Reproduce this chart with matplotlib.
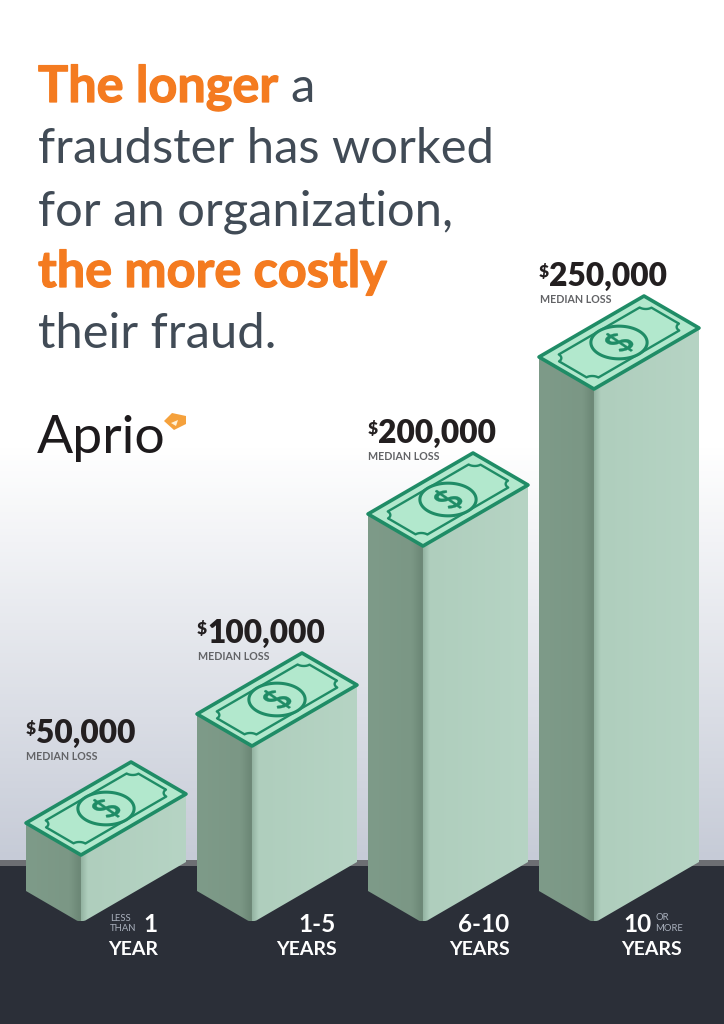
import numpy as np
import matplotlib
matplotlib.use('Agg')
import matplotlib.pyplot as plt
import matplotlib.patheffects as pe
from matplotlib.colors import LinearSegmentedColormap
from matplotlib.font_manager import FontProperties
from matplotlib.patches import PathPatch, Polygon
from matplotlib.path import Path
from matplotlib.textpath import TextPath
from matplotlib.transforms import Affine2D

# --- data ---
median_loss = [50000, 100000, 200000, 250000]
tenure_main = ['1', '1-5', '6-10', '10']
tenure_unit = ['YEAR', 'YEARS', 'YEARS', 'YEARS']
loss_caption = 'MEDIAN LOSS'

# the stacks are a pictogram, not to linear scale: loss -> stack height in px
scale_loss = [50000, 100000, 200000, 250000]
scale_height = [68, 177, 377, 534]

ORANGE = '#f47b20'
SLATE = '#414b56'
INK = '#231f20'
NAVY = '#2b2f38'
EDGE = '#1f8c66'
BILL = '#b2e8cd'
FONT = 'Lato'

fig = plt.figure(figsize=(7.24, 10.24), dpi=100)
ax = fig.add_axes([0, 0, 1, 1])
ax.axis('off')

# background
bg = LinearSegmentedColormap.from_list('bg', [(0, '#ffffff'), (0.52, '#ffffff'), (1, '#c6cbd7')])
ax.imshow(np.linspace(0, 1, 256)[:, None], cmap=bg, aspect='auto', extent=(0, 724, 862, 0), zorder=0)
ax.fill_between([0, 724], 860, 868, color='#6d6f73', lw=0, zorder=1)
ax.fill_between([0, 724], 866, 1024, color=NAVY, lw=0, zorder=1)


def shaded_face(pts, stops, zorder=2):
    xs = [p[0] for p in pts]
    ys = [p[1] for p in pts]
    cmap = LinearSegmentedColormap.from_list('face', stops)
    im = ax.imshow(np.linspace(0, 1, 128)[None, :], cmap=cmap, aspect='auto',
                   extent=(min(xs), max(xs), max(ys), min(ys)), zorder=zorder)
    clip = Polygon(pts, closed=True, transform=ax.transData, fc='none', ec='none')
    ax.add_patch(clip)
    im.set_clip_path(clip)


def draw_stack(left, height):
    # a = long edge going up-right, b = short edge going up-left, from front corner
    front = np.array([left + 55.0, 923.0])
    a = np.array([105.0, -61.0])
    b = np.array([-55.0, -32.0])
    top = front + [0, -height]
    tip = front + [0, -1.5]

    def uv(u, v):
        return top + np.outer(u, a) + np.outer(v, b)

    shaded_face([front + b, front + 0.07 * b, tip, top, top + b],
                [(0, '#7e9b89'), (0.8, '#7b9785'), (0.97, '#6d8877'), (1, '#6f8a79')])
    shaded_face([tip, front + 0.04 * a, front + a, top + a, top],
                [(0, '#94b4a2'), (0.06, '#afcebd'), (1, '#b6d4c4')])

    # top of the bill
    corners = uv(np.array([0, 1, 1, 0]), np.array([0, 0, 1, 1]))
    ax.add_patch(Polygon(corners, closed=True, fc=BILL, ec=EDGE, lw=2.6, joinstyle='round', zorder=3))

    # inner border with scooped corners
    u0, u1, v0, v1 = 0.06, 0.94, 0.14, 0.86
    ru, rv = 0.055, 0.11
    t = np.linspace(0, np.pi / 2, 12)
    us, vs = [], []
    for cu, cv, su, sv, flip in [(u0, v0, 1, 1, True), (u1, v0, -1, 1, False),
                                 (u1, v1, -1, -1, True), (u0, v1, 1, -1, False)]:
        tt = t[::-1] if flip else t
        us.extend(cu + su * ru * np.cos(tt))
        vs.extend(cv + sv * rv * np.sin(tt))
    inner = uv(np.array(us), np.array(vs))
    ax.add_patch(Polygon(inner, closed=True, fc='none', ec=EDGE, lw=1.7, joinstyle='round', zorder=4))

    # medallion and dollar sign
    ahat = a / np.linalg.norm(a)
    bhat = b / np.linalg.norm(b)
    centre = top + 0.5 * a + 0.5 * b
    r = 23.0
    th = np.linspace(0, 2 * np.pi, 120)
    ring = centre + r * (np.outer(np.cos(th), ahat) + np.outer(np.sin(th), bhat))
    ax.add_patch(Polygon(ring, closed=True, fc=BILL, ec=EDGE, lw=2.2, zorder=5))

    glyph = TextPath((0, 0), '$', size=1, prop=FontProperties(family=FONT, weight='bold'))
    ext = glyph.get_extents()
    s = 34.0
    m = Affine2D.from_values(ahat[0] * s, ahat[1] * s, bhat[0] * s, bhat[1] * s,
                             centre[0], centre[1])
    shifted = Affine2D().translate(-(ext.x0 + ext.x1) / 2, -(ext.y0 + ext.y1) / 2) + m
    ax.add_patch(PathPatch(shifted.transform_path(Path(glyph.vertices, glyph.codes)),
                           fc=EDGE, ec=EDGE, lw=0.2, zorder=6))
    return top + b


# title
def title_text(x, y, s, color, bold=False):
    if bold:
        ax.text(x, y, s, color=color, fontsize=36.3, fontweight='bold', family=FONT, va='baseline',
                path_effects=[pe.withStroke(linewidth=0.9, foreground=color)])
    else:
        ax.text(x, y, s, color=color, fontsize=35.2, family=FONT, va='baseline')


title_text(38, 102, 'The longer', ORANGE, bold=True)
title_text(290, 102, 'a', SLATE)
title_text(38, 163, 'fraudster has worked', SLATE)
title_text(38, 225, 'for an organization,', SLATE)
title_text(38, 287, 'the more costly', ORANGE, bold=True)
title_text(38, 348, 'their fraud.', SLATE)

# logo
ax.text(37, 453, 'Aprio', color='#1d1a1c', fontsize=38.5, family=FONT, va='baseline')
ax.add_patch(Polygon([(164, 421), (172, 413), (186, 416), (186, 424), (174, 430)],
                     closed=True, fc='#f5a13c', ec='none', zorder=3))
ax.add_patch(Polygon([(171, 423), (178, 420), (176, 426)], closed=True, fc='#fff1d6', ec='none', zorder=4))

# stacks and their labels
lifts = [9, 0, 0, 0]
for i, loss in enumerate(median_loss):
    left = 26 + i * 171
    h = np.interp(loss, scale_loss, scale_height)
    top_left = draw_stack(left, h)
    base = top_left[1] - 71 - lifts[i]
    ax.text(left - 2 + 2, base - 9, '$', color=INK, fontsize=12.5, fontweight='heavy', family=FONT, va='baseline')
    ax.text(left + 10, base, f'{loss:,}', color=INK, fontsize=22.8, fontweight='heavy', family=FONT, va='baseline')
    ax.text(left + 0.5, base + 17, loss_caption, color='#626366', fontsize=7.7, fontweight='bold',
            family=FONT, va='baseline')

# tenure labels
right_edges = [158, 337, 510, 682]
main_right = [158, 336, 509, 652]
for i, edge in enumerate(right_edges):
    ax.text(edge, 955, tenure_unit[i], color='white', fontsize=14, fontweight='bold', family=FONT,
            ha='right', va='baseline', zorder=8)
    ax.text(main_right[i], 931.5, tenure_main[i], color='white', fontsize=17.5,
            fontweight='bold', family=FONT, ha='right', va='baseline', zorder=8)

for x, y, s in [(110, 921, 'LESS'), (110, 931, 'THAN'), (655, 920, 'OR'), (655, 931, 'MORE')]:
    ax.text(x, y, s, color='#a9b0bc', fontsize=6.8, family=FONT, va='baseline', zorder=8)

ax.set_xlim(0, 724)
ax.set_ylim(1024, 0)
fig.savefig('out.png', dpi=100, facecolor='white')
